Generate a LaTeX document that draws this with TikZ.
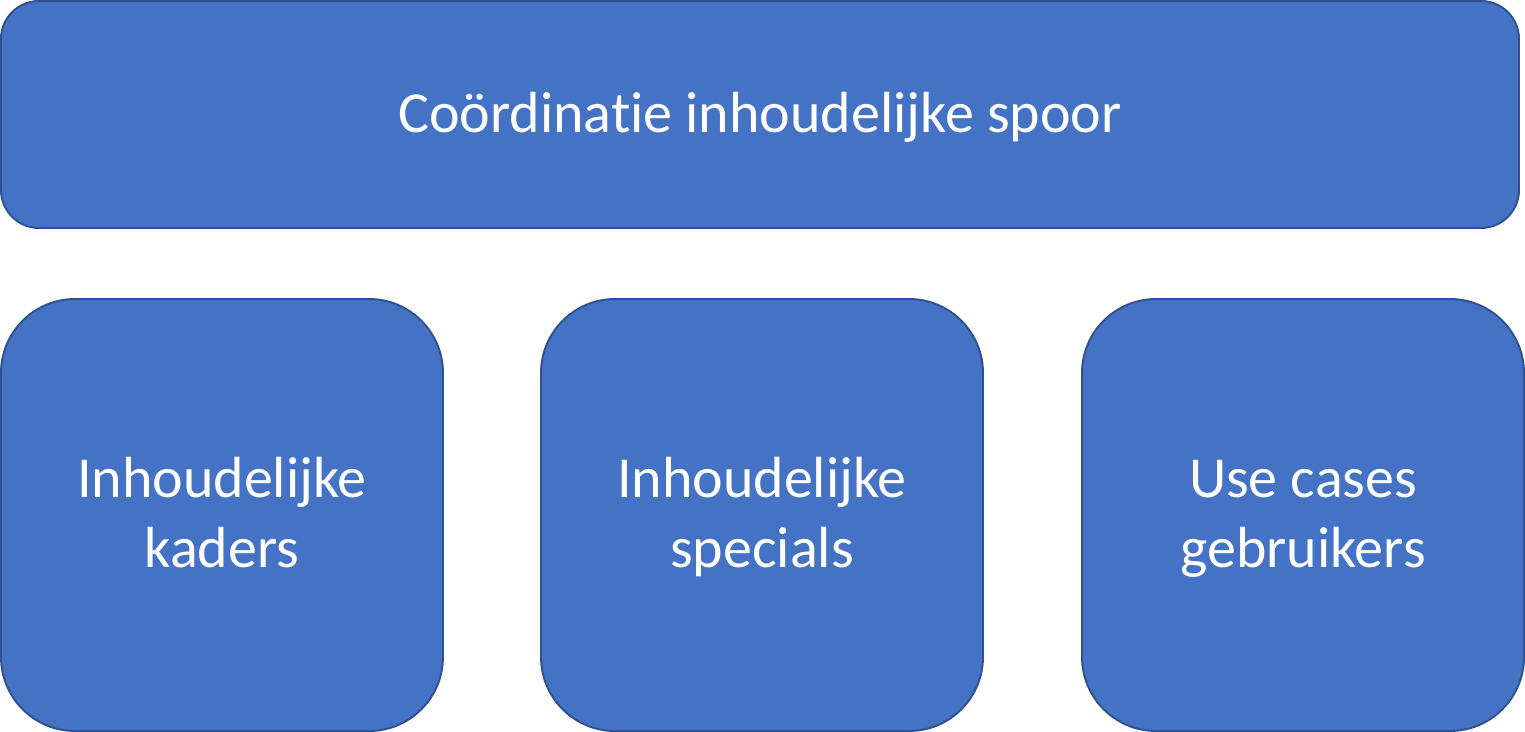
\documentclass[tikz,border=0pt]{standalone}
\usepackage{fontspec}
\setmainfont[Ligatures=NoCommon]{Carlito}
\usetikzlibrary{positioning}
\definecolor{boxfill}{HTML}{4472C4}
\definecolor{boxline}{HTML}{2F528F}
\tikzset{blok/.style={rectangle, fill=boxfill, draw=boxline, line width=1.1pt, text=white,
    align=center, inner sep=0, text depth=0pt, font=\fontsize{33}{39.5}\selectfont}}

\begin{document}
\begin{tikzpicture}
    \useasboundingbox (0,0) rectangle (30.5,-14.64);
    \node[blok, rounded corners=0.76cm, minimum width=30.36cm, minimum height=4.54cm, text height=0.74cm](top) at (15.2,-2.29) {Coördinatie inhoudelijke spoor};
    \foreach \x/\t [count=\i] in {4.44/{Inhoudelijke\\kaders},15.24/{Inhoudelijke\\specials},26.06/{Use cases\\gebruikers}}
    {
      \node[blok, rounded corners=1.48cm, minimum width=8.84cm, minimum height=8.64cm, text height=2.08cm](B\i) at (\x,-10.3) {\t};
    }
  \end{tikzpicture}
\end{document}
